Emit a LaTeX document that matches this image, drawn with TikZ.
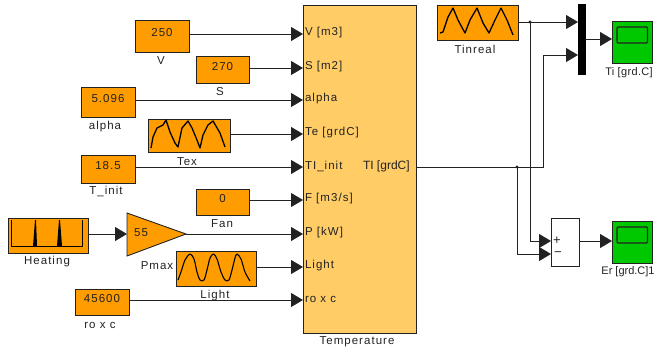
\documentclass[tikz,border=0pt]{standalone}
\usepackage{fontspec}
\setmainfont{Liberation Sans}
\usetikzlibrary{arrows.meta}
\definecolor{blk}{HTML}{FF9C00}
\definecolor{sub}{HTML}{FFCC66}
\definecolor{scp}{HTML}{00C800}
\definecolor{ink}{HTML}{222222}
\newcommand{\bx}[6]{% name x1 y1 x2 y2 text
  \node[srcblk,minimum width={(#4-#2)*1pt},minimum height={(#5-#3)*1pt}] (#1) at ({(#2+#4)/2},{(#3+#5)/2}) {};
  \node[yshift=3pt] (#1val) at (#1.center) {#6};}
\tikzset{
  x=1pt,y=-1pt,
  every node/.style={font=\fontsize{11.5}{12}\selectfont\addfontfeature{LetterSpace=9},text=ink,inner sep=0pt,outer sep=0pt},
  srcblk/.style={draw=ink,line width=.9pt,fill=blk},
  lab/.style={anchor=center},
  port/.style={anchor=west},
  wire/.style={draw=ink,line width=1pt},
  sig/.style={wire,-{Stealth[length=12pt,width=14pt,inset=0pt]}},
  wave/.style={draw=black,line width=1.3pt,line join=round},
}
\begin{document}
\begin{tikzpicture}
\useasboundingbox (0,0) rectangle (659,349);
% sources
\bx{V}{135}{20}{189}{52}{250}
\bx{S}{196}{56}{249}{83}{270}
\bx{alpha}{81}{87}{135}{117}{5.096}
\bx{Tex}{148}{119}{230}{152}{}
\bx{Tinit}{81}{155}{135}{183}{18.5}
\bx{Fan}{196}{189}{249}{215}{0}
\bx{Heating}{8}{218}{88}{253}{}
\bx{Light}{176}{251}{256}{286}{}
\bx{roxc}{75}{289}{129}{315}{45600}
\bx{Tinreal}{437}{5}{518}{40}{}
% gain
\draw[srcblk] (127,213) -- (186,234) -- (127,256) -- cycle;
\node (PmaxVal) at (141,233) {55};
\coordinate (PmaxIn) at (127,234);
\coordinate (PmaxOut) at (186,234);
% subsystem
\node[srcblk,fill=sub,minimum width=113pt,minimum height=328pt] (Temp) at (359.5,169) {};
\foreach \n/\y/\t in {pV/34/{V [m3]},pS/68/{S [m2]},pa/100/{alpha},pT/134/{Te [grdC]},pI/167/{TI\_init},pF/200/{F [m3/s]},pP/234/{P [kW]},pL/267/{Light},pR/300/{ro x c}}{
  \coordinate (\n) at (303,\y);
  \node[port] at (305,\y-1) {\t};
}
\node[port,font=\fontsize{12}{12}\selectfont] at (363,166) {TI [grdC]};
\coordinate (TempOut) at (416,167);
% labels
\node[lab] at (161,61) {V};
\node[lab] at (220,92) {S};
\node[lab] at (105,127) {alpha};
\node[lab] at (187,162) {Tex};
\node[lab] at (106,191) {T\_init};
\node[lab] at (222,224) {Fan};
\node[lab] at (47,262) {Heating};
\node[lab] at (157,266) {Pmax};
\node[lab] at (215,296) {Light};
\node[lab] at (100,325) {ro x c};
\node[lab] at (357,342) {Temperature};
\node[lab] at (475,49) {Tinreal};
\node[lab,font=\fontsize{11}{12}\selectfont\addfontfeature{LetterSpace=3}] at (629,73) {Ti [grd.C]};
\node[lab,font=\fontsize{11}{12}\selectfont] at (628,272) {Er [grd.C]1};
% waves
\draw[wave] (151,148) -- (153,137) -- (157,128) -- (163,125) -- (166,120) -- (170,132) -- (175,143) -- (178,147) -- (182,128) -- (188,121) -- (192,128) -- (197,140) -- (200,148) -- (203,135) -- (208,125) -- (213,121) -- (220,133) -- (225,147);
\draw[wave,line width=1pt] (11,220) -- (11,246) -- (82,246) -- (82,220);
\draw[fill=black,draw=none] (33,246) -- (35,220) -- (36,220) -- (37,246) -- cycle (57,246) -- (59,220) -- (60,220) -- (62,246) -- cycle;
\draw[wave,line width=1.1pt] plot[smooth] coordinates {(178,280) (181,272) (185,260) (190,254) (194,259) (197,272) (200,280) (204,280) (207,270) (210,258) (213.5,254) (217,259) (221,272) (225,280) (229,280) (232,270) (235,258) (237,254) (241,259) (245,272) (250,281)};
\draw[wave] (440,33) -- (443,32) -- (448,17) -- (453,8) -- (458,20) -- (465,33) -- (470,20) -- (477,8) -- (483,23) -- (489,33) -- (495,20) -- (501,8) -- (507,20) -- (513,35);
% mux, scopes, sum
\node[fill=black,draw=black,minimum width=7pt,minimum height=70pt] (Mux) at (581.5,39) {};
\coordinate (MuxA) at (578,22);
\coordinate (MuxB) at (578,55);
\foreach \n/\y in {Ti/42,Er/242}{
  \node[srcblk,fill=scp,minimum width=40pt,minimum height=42pt] (\n) at (632,\y) {};
  \draw[draw=ink,line width=1.2pt,rounded corners=1pt] (617,\y-15) rectangle (647.5,\y+1);
}
\node[draw=ink,line width=.8pt,fill=white,minimum width=28pt,minimum height=48pt] (Sum) at (565,242) {};
\node[font=\fontsize{13}{13}\selectfont] at (557,241) {+};
\node[font=\fontsize{13}{13}\selectfont] at (558,254) {−};
\coordinate (SumA) at (551,241);
\coordinate (SumB) at (551,254);
\coordinate (J1) at (517,167);
\coordinate (J2) at (530,22);
% wires
\draw[sig] (V.east |- pV) -- (pV);
\draw[sig] (S.east |- pS) -- (pS);
\draw[sig] (alpha.east |- pa) -- (pa);
\draw[sig] (Tex.east |- pT) -- (pT);
\draw[sig] (Tinit.east |- pI) -- (pI);
\draw[sig] (Fan.east |- pF) -- (pF);
\draw[sig] (Heating.east |- PmaxIn) -- (PmaxIn);
\draw[sig] (PmaxOut) -- (pP);
\draw[sig] (Light.east |- pL) -- (pL);
\draw[sig] (roxc.east |- pR) -- (pR);
\draw[sig] (Tinreal.east |- MuxA) -- (MuxA);
\draw[sig] (TempOut) -- (543,167) -- (543,55) -- (MuxB);
\draw[sig] (J2) -- (530,241) -- (SumA);
\draw[sig] (J1) -- (517,254) -- (SumB);
\fill[ink] (J1) circle (1.6pt) (J2) circle (1.6pt);
\draw[sig] (Mux.east) -- (Ti.west |- Mux.east);
\draw[sig] (Sum.east |- SumA) -- (Er.west |- SumA);
\end{tikzpicture}
\end{document}
